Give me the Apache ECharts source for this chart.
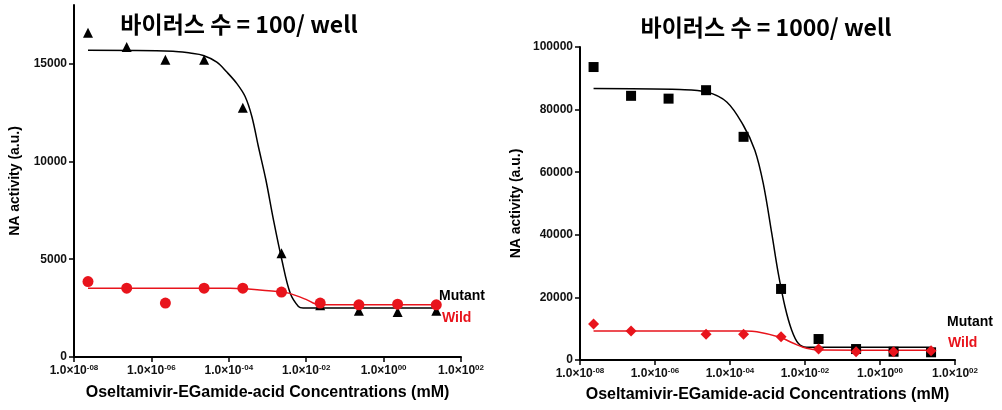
<!DOCTYPE html>
<html>
<head>
<meta charset="utf-8">
<script src="https://cdn.jsdelivr.net/npm/echarts@6/dist/echarts.min.js"></script>
<style>
  html, body { margin: 0; padding: 0; background: #fff; }
  #chart { width: 1002px; height: 410px; }
</style>
</head>
<body>
<div id="chart"></div>
<script>
// Oseltamivir-EGamide-acid dilution series (mM)
var concentrations = [2.3e-8, 2.3e-7, 2.3e-6, 2.3e-5, 2.3e-4, 2.3e-3, 2.3e-2, 2.3e-1, 2.3, 23];

// 100 virus / well
var mutant100 = [16580, 15850, 15200, 15200, 12750, 5300, 2650, 2360, 2300, 2360];
var wild100   = [3860, 3520, 2760, 3520, 3520, 3320, 2760, 2670, 2700, 2670];

// 1000 virus / well (no wild-type reading at the third dilution)
var mutant1000 = [93600, 84400, 83500, 86200, 71300, 22700, 6700, 3500, 2650, 2460];
var wild1000   = [11500, 9250, null, 8200, 8200, 7450, 3500, 2650, 2650, 2970];

// Dose-response fit curves, [concentration, activity]
var mutantFit100 = [[2.3e-8, 15680], [3.6e-6, 15640], [1.0e-5, 15540], [2.2e-5, 15420], [4.9e-5, 15080],
  [8.9e-5, 14570], [1.62e-4, 13980], [2.64e-4, 13320], [3.94e-4, 12300], [5.83e-4, 10750],
  [9.1e-4, 9050], [1.43e-3, 7000], [2.35e-3, 4960], [3.85e-3, 3270], [6.3e-3, 2580],
  [8.3e-3, 2500], [23, 2500]];
var wildFit100 = [[2.3e-8, 3510], [1.08e-4, 3510], [1.75e-3, 3350], [3.5e-3, 3265], [1.05e-2, 2920],
  [1.7e-2, 2720], [2.8e-2, 2670], [23, 2670]];
var mutantFit1000 = [[2.3e-8, 86720], [4.6e-6, 86400], [2.4e-5, 85640], [8.2e-5, 82450], [2.26e-4, 75000],
  [4.6e-4, 67030], [7.7e-4, 56400], [1.3e-3, 40440], [1.94e-3, 27670], [2.93e-3, 17010],
  [4.4e-3, 9575], [6.6e-3, 5330], [1.1e-2, 4050], [23, 4050]];
var wildFit1000 = [[2.3e-8, 9300], [2.5e-4, 9250], [5.2e-4, 9030], [2.15e-3, 7250], [4.9e-3, 5330],
  [1.1e-2, 3730], [2.5e-2, 3190], [23, 3100]];

// Axis ticks
var xTicks = [1e-8, 1e-6, 1e-4, 1e-2, 1e0, 1e2];
var yTicks100 = [0, 5000, 10000, 15000];

var titles = ['바이러스 수 = 100/ well', '바이러스 수 = 1000/ well'];
var xName = 'Oseltamivir-EGamide-acid Concentrations (mM)';
var yName = 'NA activity (a.u.)';
var seriesNames = ['Mutant', 'Wild'];

var BLACK = '#000000';
var RED = '#e8141c';
var FONT = '"Liberation Sans", Arial, sans-serif';

function pairs(xs, ys) {
  var out = [];
  for (var i = 0; i < xs.length; i++) {
    if (ys[i] != null) out.push([xs[i], ys[i]]);
  }
  return out;
}

function expLabel(v) {
  var e = Math.round(Math.log10(v));
  var s = (e < 0 ? '-' : '') + (Math.abs(e) < 10 ? '0' : '') + Math.abs(e);
  return '{b|1.0×10}{s|' + s + '}';
}

function xAxis(gridIndex, nameGap) {
  return {
    type: 'log', logBase: 10, gridIndex: gridIndex,
    min: 1e-8, max: 1e2,
    name: xName, nameLocation: 'middle', nameGap: nameGap,
    nameTextStyle: { fontFamily: FONT, fontWeight: 'bold', fontSize: 16, color: BLACK },
    axisLine: { lineStyle: { color: BLACK, width: 2 } },
    axisTick: { customValues: xTicks, length: 5, lineStyle: { color: BLACK, width: 1.5 } },
    minorTick: { show: false },
    splitLine: { show: false },
    axisLabel: {
      customValues: xTicks, margin: 7,
      formatter: expLabel,
      rich: {
        b: { fontFamily: FONT, fontWeight: 'bold', fontSize: 12, color: '#111', lineHeight: 14 },
        s: { fontFamily: FONT, fontWeight: 'bold', fontSize: 8, color: '#111', verticalAlign: 'top', lineHeight: 14 }
      }
    }
  };
}

function yAxis(gridIndex, opts) {
  var ax = {
    type: 'value', gridIndex: gridIndex,
    min: 0, max: opts.max,
    name: yName, nameLocation: 'middle', nameGap: opts.nameGap, nameRotate: 90,
    nameTextStyle: { fontFamily: FONT, fontWeight: 'bold', fontSize: 14, color: BLACK },
    axisLine: { show: true, lineStyle: { color: BLACK, width: 2 } },
    axisTick: { show: true, length: 5, lineStyle: { color: BLACK, width: 1.5 } },
    splitLine: { show: false },
    axisLabel: {
      margin: 7, fontFamily: FONT, fontWeight: 'bold', fontSize: 12, color: '#111',
      formatter: function (v) { return String(v); }
    }
  };
  if (opts.interval) ax.interval = opts.interval;
  if (opts.ticks) {
    ax.axisTick.customValues = opts.ticks;
    ax.axisLabel.customValues = opts.ticks;
  }
  return ax;
}

function fitLine(name, data, color, idx) {
  return {
    name: name, type: 'line', data: data,
    xAxisIndex: idx, yAxisIndex: idx,
    showSymbol: false, smooth: 0.35,
    lineStyle: { color: color, width: 1.5 },
    silent: true, z: 2
  };
}

function points(name, data, color, symbol, size, idx, z) {
  return {
    name: name, type: 'scatter', data: data,
    xAxisIndex: idx, yAxisIndex: idx,
    symbol: symbol, symbolSize: size,
    itemStyle: { color: color, opacity: 1 },
    z: z
  };
}

function text(str, x, y, opts) {
  return {
    type: 'text', x: x, y: y,
    style: {
      text: str,
      fill: opts.color || BLACK,
      font: (opts.weight || 'bold') + ' ' + opts.size + 'px ' + (opts.family || FONT),
      align: opts.align || 'left',
      verticalAlign: 'middle'
    }
  };
}

var chart = echarts.init(document.getElementById('chart'), null, { renderer: 'canvas' });

chart.setOption({
  backgroundColor: '#ffffff',
  animation: false,
  grid: [
    { left: 74, top: 5, width: 387, height: 352 },
    { left: 580, top: 47, width: 375, height: 313 }
  ],
  xAxis: [xAxis(0, 28), xAxis(1, 27)],
  yAxis: [
    yAxis(0, { max: 18000, ticks: yTicks100, nameGap: 52 }),
    yAxis(1, { max: 100000, interval: 20000, nameGap: 57 })
  ],
  series: [
    fitLine(seriesNames[0], mutantFit100, BLACK, 0),
    fitLine(seriesNames[1], wildFit100, RED, 0),
    points(seriesNames[0], pairs(concentrations, mutant100), BLACK, 'triangle', 10, 0, 3),
    points(seriesNames[1], pairs(concentrations, wild100), RED, 'circle', 11, 0, 4),

    fitLine(seriesNames[0], mutantFit1000, BLACK, 1),
    fitLine(seriesNames[1], wildFit1000, RED, 1),
    points(seriesNames[0], pairs(concentrations, mutant1000), BLACK, 'rect', 10, 1, 3),
    points(seriesNames[1], pairs(concentrations, wild1000), RED, 'diamond', 11, 1, 4)
  ],
  graphic: [
    text(titles[0], 239, 24, { size: 23, align: 'center', family: '"Noto Sans CJK KR", sans-serif' }),
    text(titles[1], 766, 27, { size: 23, align: 'center', family: '"Noto Sans CJK KR", sans-serif' }),
    text(seriesNames[0], 439, 296, { size: 14 }),
    text(seriesNames[1], 442, 318, { size: 14, color: RED }),
    text(seriesNames[0], 947, 322, { size: 14 }),
    text(seriesNames[1], 948, 343, { size: 14, color: RED })
  ]
});
</script>
</body>
</html>
